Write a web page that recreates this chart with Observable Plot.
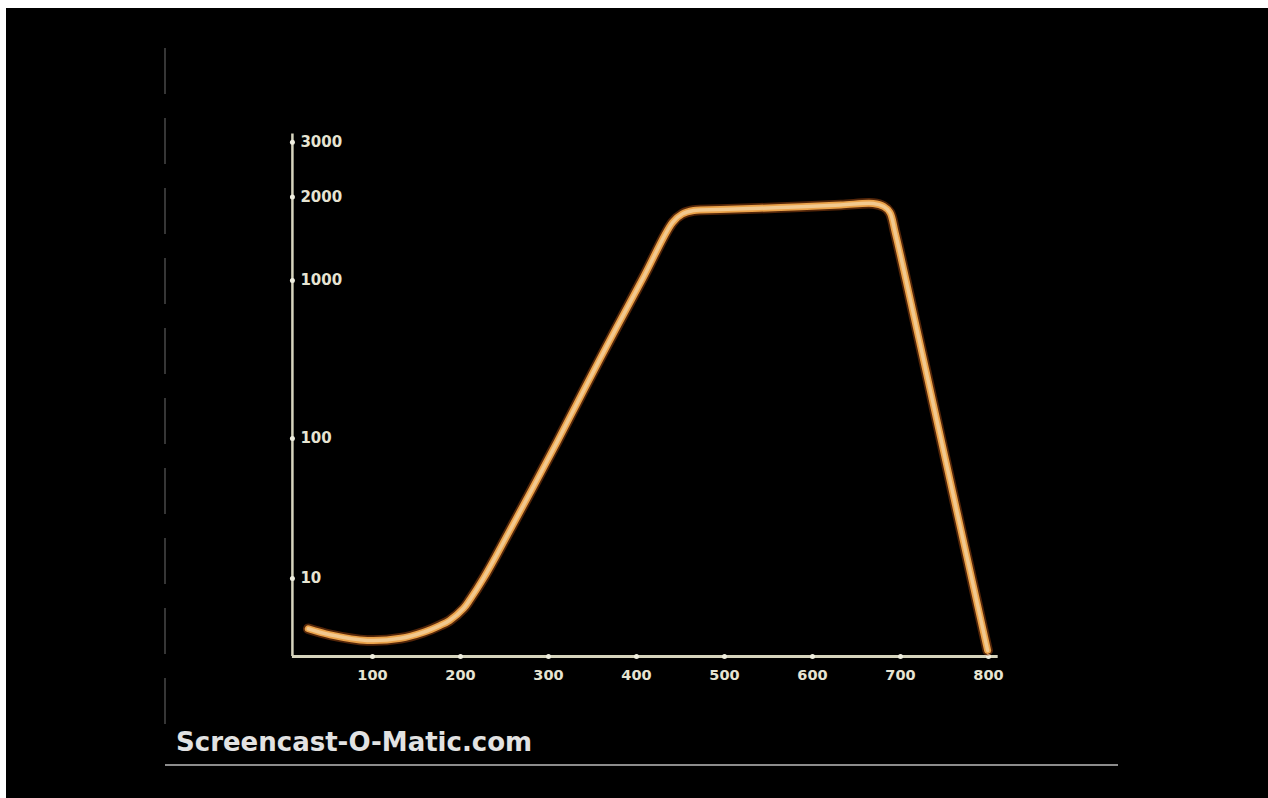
<!DOCTYPE html>
<html><head><meta charset="utf-8">
<script src="https://cdn.jsdelivr.net/npm/d3@7"></script>
<script src="https://cdn.jsdelivr.net/npm/@observablehq/plot@0.6"></script>
<style>
html,body{margin:0;padding:0;background:#fff;}
#wrap{position:relative;width:1268px;height:798px;background:#000;overflow:hidden;}
#chart svg{position:absolute;left:0;top:0;background:#000;}
.white-top{position:absolute;left:0;top:0;width:1268px;height:8px;background:#fff;}
.white-left{position:absolute;left:0;top:0;width:6px;height:798px;background:#fff;}
.caption{position:absolute;left:176px;top:727px;font-family:"DejaVu Sans",sans-serif;font-weight:bold;font-size:26px;line-height:30px;color:#e2e2e2;white-space:nowrap;}
.bottom-line{position:absolute;left:165px;top:764px;width:953px;height:2px;background:#8c8c8c;}
.left-line{position:absolute;left:164px;top:48px;width:2px;height:680px;background:repeating-linear-gradient(to bottom,#363636 0 46px,transparent 46px 70px);}
</style>
</head><body>
<div id="wrap">
  <div id="chart"></div>
  <div class="left-line"></div>
  <div class="bottom-line"></div>
  <div class="caption">Screencast-O-Matic.com</div>
  <div class="white-top"></div>
  <div class="white-left"></div>
</div>
<script>
// Tick values
const xTicks = [100, 200, 300, 400, 500, 600, 700, 800];
const yTicks = [10, 100, 1000, 2000, 3000];
// Curve
const curveX = [27, 52, 94, 132, 158, 177, 187.5, 203.4, 211, 226, 240, 310, 359, 408, 441, 452, 465, 495, 564, 632, 669, 681, 688, 694, 720.5, 746.6, 772.7, 799];
const curveY = [4.2, 3.5, 2.85, 3.1, 3.8, 4.6, 5.15, 6.54, 7.6, 10, 24, 98, 558, 1041, 1695, 1796, 1838, 1850, 1874, 1904, 1922, 1886, 1814, 1575, 678, 98, 31, 1.7];

const curve = curveX.map((x, i) => ({x, y: curveY[i]}));
const axisColor = "#d6d4bd";
const labelColor = "#e6e4d2";
const tickFont = "DejaVu Sans, sans-serif";

const plot = Plot.plot({
  width: 1268,
  height: 798,
  marginLeft: 284,
  marginRight: 280,
  style: {background: "#000", overflow: "visible"},
  x: {domain: [0, 800], range: [284, 988], axis: null},
  y: {type: "linear", domain: [1, 10, 100, 1000, 2000, 3000], range: [656, 578, 438, 280, 196.5, 141.7], axis: null},
  marks: [
    Plot.ruleX([9], {y1: 1, y2: 3150, stroke: axisColor, strokeWidth: 2.5}),
    Plot.ruleY([1], {x1: 9, x2: 811, stroke: axisColor, strokeWidth: 3}),
    Plot.dot(yTicks, {x: 9, y: d => d, r: 2.5, fill: "#f0efe0", stroke: null}),
    Plot.dot(xTicks, {x: d => d, y: 1, r: 2.5, fill: "#f0efe0", stroke: null}),
    Plot.text(yTicks, {x: 9, y: d => d, text: d => String(d), textAnchor: "start", dx: 8, fill: labelColor, fontSize: 15, fontWeight: "bold", fontFamily: tickFont}),
    Plot.text(xTicks, {x: d => d, y: 1, text: d => String(d), dy: 19, fill: labelColor, fontSize: 14.5, fontWeight: "bold", fontFamily: tickFont}),
    Plot.line(curve, {x: "x", y: "y", curve: "catmull-rom", stroke: "#a84c12", strokeWidth: 10.5, strokeOpacity: 0.5}),
    Plot.line(curve, {x: "x", y: "y", curve: "catmull-rom", stroke: "#eaa24a", strokeWidth: 7}),
    Plot.line(curve, {x: "x", y: "y", curve: "catmull-rom", stroke: "#f2c98f", strokeWidth: 3.5})
  ]
});
document.getElementById("chart").appendChild(plot);
</script>
</body></html>
